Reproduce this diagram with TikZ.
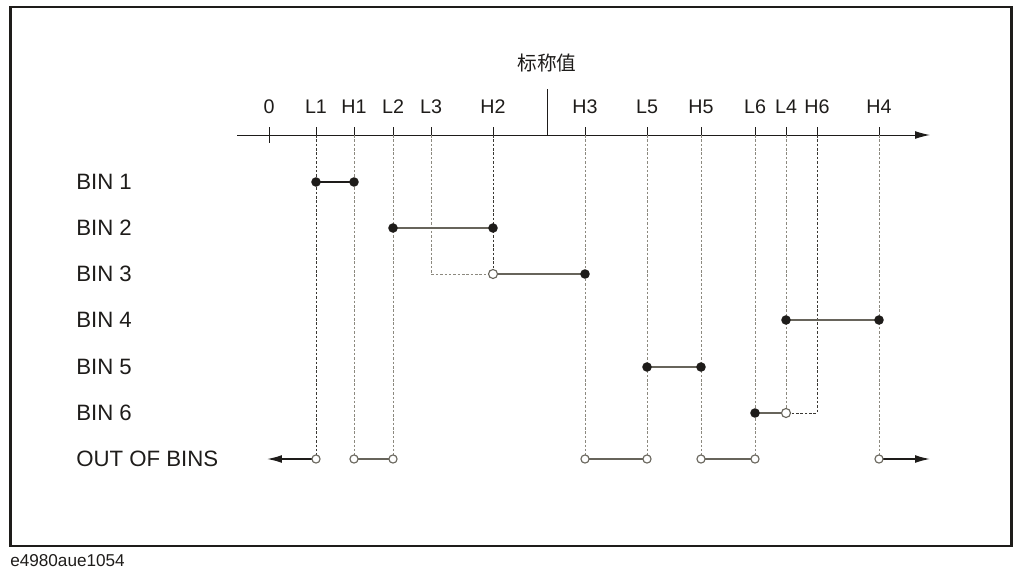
\documentclass[tikz,border=0pt]{standalone}
\usepackage{fontspec}
\setmainfont{Liberation Sans}
\newfontfamily\cjkfont{Noto Sans CJK SC}
\usetikzlibrary{arrows.meta,positioning,calc}
\definecolor{framedark}{HTML}{1E1C1A}
\definecolor{dashgray}{HTML}{8C897F}
\definecolor{dashdark}{HTML}{3A3833}
\definecolor{barline}{HTML}{67645B}

\begin{document}
\begin{tikzpicture}[x=0.025cm,y=-0.025cm,
 ticklbl/.style={font=\fontsize{14}{16}\selectfont,inner sep=0pt,text=framedark},
 binlbl/.style={font=\fontsize{15.8}{18}\selectfont,anchor=west,inner sep=0pt,text=framedark},
 vline/.style={dashgray,line width=0.7pt,dash pattern=on 1.8pt off 1.3pt},
 vdark/.style={vline,dashdark},
 bar/.style={barline,line width=1pt},
 fulldot/.style={circle,fill=framedark,inner sep=0pt,minimum size=6.8pt},
 opendot/.style={circle,draw=barline,fill=white,line width=0.8pt,inner sep=0pt,minimum size=6.4pt},
 smalldot/.style={opendot,minimum size=5.8pt}]
\useasboundingbox (0,0) rectangle (1014,572);
\draw[framedark,line width=2.1pt] (10.5,7) rectangle (1011.5,546);
\node[anchor=west,inner sep=0pt,font=\fontsize{12.2}{14}\selectfont,text=framedark] (figid) at (10,561) {e4980aue1054};

% axis
\coordinate (axl) at (237,135);
\coordinate (axr) at (930,135);
\draw[framedark,line width=0.7pt,-{Latex[length=10.5pt,width=5.5pt]}] (axl) -- (axr);
\coordinate (nomtop) at (547,89);
\draw[framedark,line width=0.7pt] (nomtop) -- (nomtop |- axl);
\node[font=\cjkfont\fontsize{14}{16}\selectfont,inner sep=0pt,text=framedark] (nomlbl) at (547,63) {标称值};

\foreach \n/\x in {0/269,L1/316,H1/354,L2/393,L3/431,H2/493,H3/585,L5/647,H5/701,L6/755,L4/786,H6/817,H4/879}{
  \coordinate (t\n) at (\x,135);
  \coordinate (k\n) at (\x,127);
  \node[ticklbl] (lab\n) at (\x,107) {\n};
  \draw[framedark,line width=0.6pt] (k\n) -- (t\n);
}
\coordinate (k0b) at (269,143);
\draw[framedark,line width=0.6pt] (t0) -- (k0b);

% rows
\foreach \r/\y/\txt in {1/182/BIN 1,2/228/BIN 2,3/274/BIN 3,4/320/BIN 4,5/367/BIN 5,6/413/BIN 6,7/459/OUT OF BINS}{
  \coordinate (r\r) at (0,\y);
  \node[binlbl] (bin\r) at (76,\y) {\txt};
}

% end points
\coordinate (d1a) at (tL1 |- r1); \coordinate (d1b) at (tH1 |- r1);
\coordinate (d2a) at (tL2 |- r2); \coordinate (d2b) at (tH2 |- r2);
\coordinate (d3c) at (tL3 |- r3); \coordinate (d3a) at (tH2 |- r3); \coordinate (d3b) at (tH3 |- r3);
\coordinate (d4a) at (tL4 |- r4); \coordinate (d4b) at (tH4 |- r4);
\coordinate (d5a) at (tL5 |- r5); \coordinate (d5b) at (tH5 |- r5);
\coordinate (d6a) at (tL6 |- r6); \coordinate (d6b) at (tL4 |- r6); \coordinate (d6c) at (tH6 |- r6);
\coordinate (o1) at (tL1 |- r7); \coordinate (o2) at (tH1 |- r7); \coordinate (o3) at (tL2 |- r7);
\coordinate (o4) at (tH3 |- r7); \coordinate (o5) at (tL5 |- r7); \coordinate (o6) at (tH5 |- r7);
\coordinate (o7) at (tL6 |- r7); \coordinate (o8) at (tH4 |- r7);
\coordinate (oleft) at (267,459); \coordinate (oright) at (930,459);

% dashed limits
\draw[vdark] (tL1) -- (o1);
\draw[vline] (tH1) -- (o2);
\draw[vline] (tL2) -- (o3);
\draw[vline] (tL3) -- (d3c) -- (d3a);
\draw[vdark] (tH2) -- (d3a);
\draw[vline] (tH3) -- (o4);
\draw[vline] (tL5) -- (o5);
\draw[vline] (tH5) -- (o6);
\draw[vline] (tL6) -- (o7);
\draw[vline] (tL4) -- (d6b);
\draw[vdark] (tH6) -- (d6c) -- (d6b);
\draw[vline] (tH4) -- (o8);

% bins
\draw[bar,framedark] (d1a) -- (d1b);
\draw[bar] (d2a) -- (d2b);
\draw[bar] (d3a) -- (d3b);
\draw[bar] (d4a) -- (d4b);
\draw[bar] (d5a) -- (d5b);
\draw[bar] (d6a) -- (d6b);
\draw[bar,framedark,-{Latex[length=10.5pt,width=5.5pt]}] (o1) -- (oleft);
\draw[bar] (o2) -- (o3);
\draw[bar] (o4) -- (o5);
\draw[bar] (o6) -- (o7);
\draw[bar,framedark,-{Latex[length=10.5pt,width=5.5pt]}] (o8) -- (oright);

\foreach \p in {d1a,d1b,d2a,d2b,d3b,d4a,d4b,d5a,d5b,d6a}
  \node[fulldot] (n\p) at (\p) {};
\foreach \p in {d3a,d6b}
  \node[opendot] (n\p) at (\p) {};
\foreach \p in {o1,o2,o3,o4,o5,o6,o7,o8}
  \node[smalldot] (n\p) at (\p) {};
\end{tikzpicture}
\end{document}
